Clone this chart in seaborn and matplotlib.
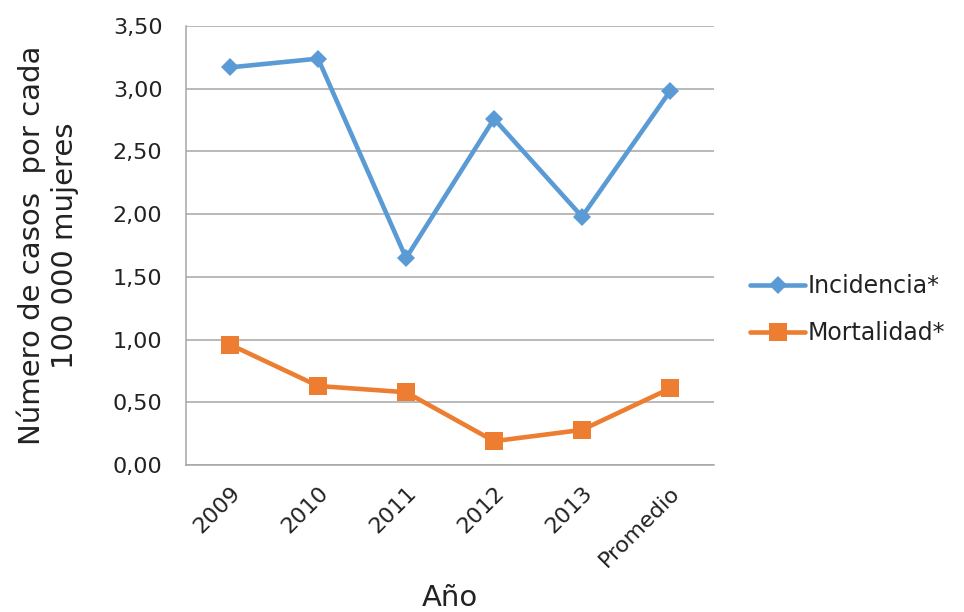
import matplotlib
matplotlib.use("Agg")
import matplotlib.pyplot as plt
from matplotlib.ticker import FuncFormatter, MultipleLocator
import seaborn as sns
import pandas as pd

categorias = ["2009", "2010", "2011", "2012", "2013", "Promedio"]
incidencia = [3.17, 3.24, 1.65, 2.76, 1.98, 2.98]
mortalidad = [0.96, 0.63, 0.58, 0.19, 0.28, 0.61]
series = ["Incidencia*", "Mortalidad*"]

sns.set_style("white")
plt.rcParams["font.family"] = ["DejaVu Sans"]

df = pd.DataFrame({
    "pos": list(range(len(categorias))) * 2,
    "valor": incidencia + mortalidad,
    "serie": [series[0]] * len(categorias) + [series[1]] * len(categorias),
})

fig = plt.figure(figsize=(9.64, 6.12), dpi=100)
ax = fig.add_axes([0.193, 0.2402, 0.5477, 0.7173])

azul, naranja = "#5B9BD5", "#ED7D31"
palette = {series[0]: azul, series[1]: naranja}
markers = {series[0]: "D", series[1]: "s"}
sns.lineplot(data=df, x="pos", y="valor", hue="serie", style="serie",
             palette=palette, markers=markers, dashes=False, linewidth=3.3,
             markeredgewidth=0, ax=ax, legend=False, zorder=3)
for line in ax.get_lines():
    line.set_markersize(9 if line.get_marker() == "D" else 12.5)

ax.set_xlim(-0.5, len(categorias) - 0.5)
ax.set_ylim(0, 3.5)
ax.yaxis.set_major_locator(MultipleLocator(0.5))
ax.yaxis.set_major_formatter(FuncFormatter(lambda v, p: f"{v:.2f}".replace(".", ",")))
ax.set_xticks(range(len(categorias)))
ax.set_xticklabels(categorias, rotation=45, ha="right", rotation_mode="anchor")
ax.tick_params(axis="both", labelsize=16, length=0, colors="#222222")
ax.tick_params(axis="x", pad=13)
ax.tick_params(axis="y", pad=17)

ax.grid(axis="y", color="#A6A6A6", linewidth=1.1, zorder=0)
ax.set_axisbelow(True)
for s in ["top", "right"]:
    ax.spines[s].set_visible(False)
for s in ["left", "bottom"]:
    ax.spines[s].set_color("#A6A6A6")
    ax.spines[s].set_linewidth(1.1)

ax.set_xlabel("Año", fontsize=21, color="#222222", va="top")
ax.xaxis.set_label_coords(0.5, -0.272)
ax.set_ylabel("Número de casos  por cada\n100 000 mujeres", fontsize=21,
              color="#222222", linespacing=1.2, va="center", ha="center")
ax.yaxis.set_label_coords(-0.262, 0.5)

handles = [
    plt.Line2D([], [], color=azul, marker="D", markersize=9,
               linewidth=3.3, markeredgewidth=0),
    plt.Line2D([], [], color=naranja, marker="s", markersize=12.5,
               linewidth=3.3, markeredgewidth=0),
]
fig.legend(handles, series, loc="center left",
           bbox_to_anchor=(0.768, 0.494), frameon=False, fontsize=17,
           handlelength=2.35, handletextpad=0.1, labelspacing=0.95,
           labelcolor="#222222", borderaxespad=0)

fig.savefig("out.png", dpi=100)
